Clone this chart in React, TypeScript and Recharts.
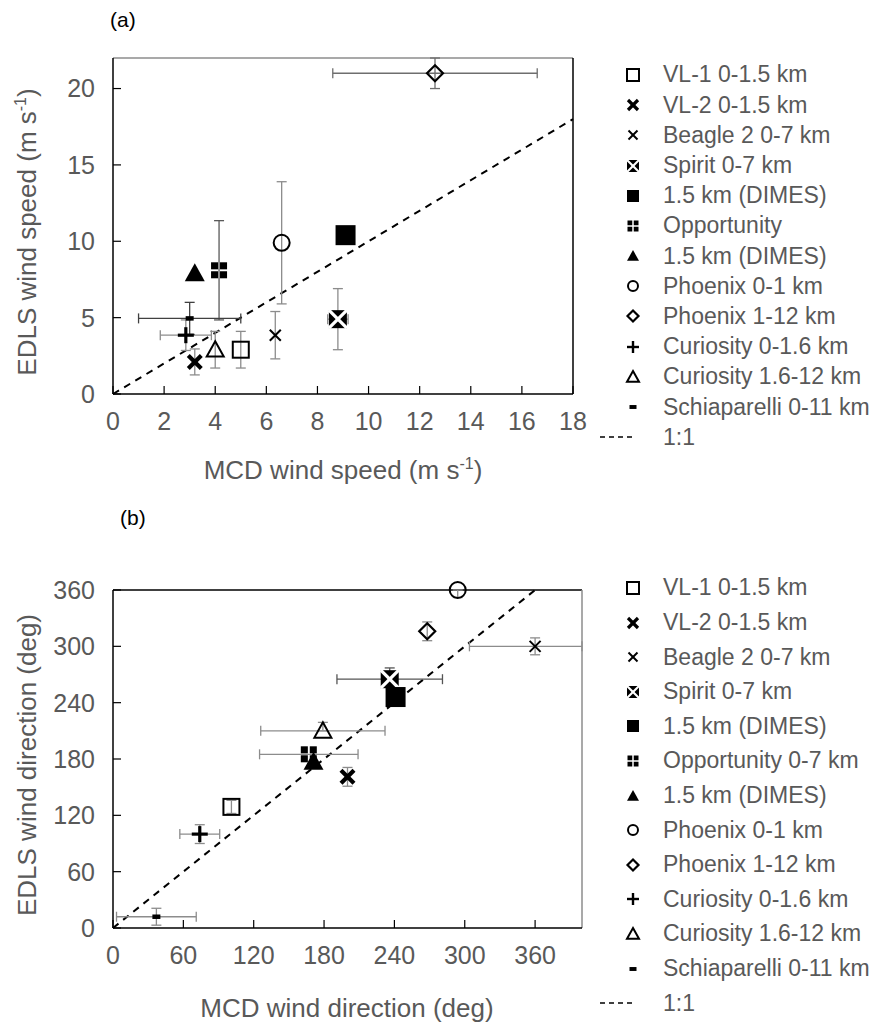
import React from 'react';
import { ScatterChart, Scatter, XAxis, YAxis, ErrorBar, ReferenceLine } from 'recharts';

type Pt = { x: number; y: number; ex?: number | number[]; ey?: number | number[] };

// ---------- legend labels ----------
const legendA = ['VL-1 0-1.5 km', 'VL-2 0-1.5 km', 'Beagle 2 0-7 km', 'Spirit 0-7 km', '1.5 km (DIMES)', 'Opportunity', '1.5 km (DIMES)', 'Phoenix 0-1 km', 'Phoenix 1-12 km', 'Curiosity 0-1.6 km', 'Curiosity 1.6-12 km', 'Schiaparelli 0-11 km'];
const legendB = ['VL-1 0-1.5 km', 'VL-2 0-1.5 km', 'Beagle 2 0-7 km', 'Spirit 0-7 km', '1.5 km (DIMES)', 'Opportunity 0-7 km', '1.5 km (DIMES)', 'Phoenix 0-1 km', 'Phoenix 1-12 km', 'Curiosity 0-1.6 km', 'Curiosity 1.6-12 km', 'Schiaparelli 0-11 km'];
const markerKinds = ['openSquare', 'boldX', 'thinX', 'spirit', 'filledSquare', 'quad', 'filledTri', 'openCircle', 'openDiamond', 'plus', 'openTri', 'dash'];

// ---------- panel (a): wind speed ----------
const vl1A: Pt[] = [{ x: 5.0, y: 2.9, ey: 1.2 }];
const vl2A: Pt[] = [{ x: 3.2, y: 2.1, ey: 0.85 }];
const beagleA: Pt[] = [{ x: 6.35, y: 3.85, ey: 1.55 }];
const spiritA: Pt[] = [{ x: 8.8, y: 4.9, ex: 0.4, ey: 2 }];
const dimesSqA: Pt[] = [{ x: 9.1, y: 10.4 }];
const oppA: Pt[] = [{ x: 4.15, y: 8.1, ey: 3.25 }];
const dimesTriA: Pt[] = [{ x: 3.2, y: 7.9 }];
const phx01A: Pt[] = [{ x: 6.6, y: 9.9, ey: 4 }];
const phx112A: Pt[] = [{ x: 12.6, y: 21, ex: 4, ey: 1 }];
const cur016A: Pt[] = [{ x: 2.85, y: 3.85, ex: 1, ey: 1 }];
const cur1612A: Pt[] = [{ x: 4.0, y: 2.9, ey: 1.2 }];
const schiaA: Pt[] = [{ x: 3.0, y: 4.95, ex: 2, ey: 1.05 }];
const seriesA = [vl1A, vl2A, beagleA, spiritA, dimesSqA, oppA, dimesTriA, phx01A, phx112A, cur016A, cur1612A, schiaA];
const xTicksA = [0, 2, 4, 6, 8, 10, 12, 14, 16, 18];
const yTicksA = [0, 5, 10, 15, 20];
const oneToOneA = [{ x: 0, y: 0 }, { x: 18, y: 18 }];
const errColorsA = ['#8c8c8c', '#8c8c8c', '#8c8c8c', '#8c8c8c', '#8c8c8c', '#595959', '#8c8c8c', '#8c8c8c', '#6e6e6e', '#8c8c8c', '#8c8c8c', '#404040'];

// ---------- panel (b): wind direction ----------
const vl1B: Pt[] = [{ x: 101, y: 129, ey: 7 }];
const vl2B: Pt[] = [{ x: 200, y: 161, ey: 10 }];
const beagleB: Pt[] = [{ x: 360, y: 300, ex: [56, 40], ey: 9 }];
const spiritB: Pt[] = [{ x: 236, y: 265, ex: 45, ey: [0, 12] }];
const dimesSqB: Pt[] = [{ x: 241, y: 246 }];
const oppB: Pt[] = [{ x: 167, y: 185, ex: 42 }];
const dimesTriB: Pt[] = [{ x: 171, y: 177 }];
const phx01B: Pt[] = [{ x: 294, y: 360, ey: [8, 0] }];
const phx112B: Pt[] = [{ x: 268, y: 316, ey: 10 }];
const cur016B: Pt[] = [{ x: 74, y: 100, ex: 17, ey: 10 }];
const cur1612B: Pt[] = [{ x: 179, y: 210, ex: 53, ey: [0, 9] }];
const schiaB: Pt[] = [{ x: 37, y: 12, ex: 34, ey: 9 }];
const seriesB = [vl1B, vl2B, beagleB, spiritB, dimesSqB, oppB, dimesTriB, phx01B, phx112B, cur016B, cur1612B, schiaB];
const xTicksB = [0, 60, 120, 180, 240, 300, 360];
const yTicksB = [0, 60, 120, 180, 240, 300, 360];
const oneToOneB = [{ x: 0, y: 0 }, { x: 360, y: 360 }];
const errColorsB = ['#8c8c8c', '#8c8c8c', '#8c8c8c', '#555555', '#8c8c8c', '#8c8c8c', '#8c8c8c', '#8c8c8c', '#8c8c8c', '#8c8c8c', '#8c8c8c', '#8c8c8c'];

const chartSizes = [16, 13, 11, 18, 20, 16, 20, 18, 16, 16, 17, 8];
const legendSizes = [12, 10, 9, 12, 12, 11, 12, 12, 11, 12, 12, 7];

const FONT = '"Liberation Sans", Arial, sans-serif';
const GREY = '#595959';

function Marker({ kind, cx, cy, s }: { kind: string; cx: number; cy: number; s: number }) {
  const h = s / 2;
  switch (kind) {
    case 'openSquare':
      return <rect x={cx - h} y={cy - h} width={s} height={s} fill="none" stroke="#000" strokeWidth={2} />;
    case 'boldX':
      return (
        <g stroke="#000" strokeWidth={s * 0.32}>
          <line x1={cx - h} y1={cy - h} x2={cx + h} y2={cy + h} />
          <line x1={cx - h} y1={cy + h} x2={cx + h} y2={cy - h} />
        </g>
      );
    case 'thinX':
      return (
        <g stroke="#000" strokeWidth={2}>
          <line x1={cx - h} y1={cy - h} x2={cx + h} y2={cy + h} />
          <line x1={cx - h} y1={cy + h} x2={cx + h} y2={cy - h} />
        </g>
      );
    case 'spirit':
      return (
        <g>
          <rect x={cx - h} y={cy - h} width={s} height={s} fill="#000" />
          <g stroke="#fff" strokeWidth={s * 0.18}>
            <line x1={cx - h} y1={cy - h} x2={cx + h} y2={cy + h} />
            <line x1={cx - h} y1={cy + h} x2={cx + h} y2={cy - h} />
          </g>
        </g>
      );
    case 'filledSquare':
      return <rect x={cx - h} y={cy - h} width={s} height={s} fill="#000" />;
    case 'quad': {
      const g = Math.max(1.5, s * 0.12);
      const q = (s - g) / 2;
      return (
        <g fill="#000">
          <rect x={cx - h} y={cy - h} width={q} height={q} />
          <rect x={cx + g / 2} y={cy - h} width={q} height={q} />
          <rect x={cx - h} y={cy + g / 2} width={q} height={q} />
          <rect x={cx + g / 2} y={cy + g / 2} width={q} height={q} />
        </g>
      );
    }
    case 'filledTri':
      return <polygon points={`${cx},${cy - h} ${cx + h},${cy + h * 0.8} ${cx - h},${cy + h * 0.8}`} fill="#000" />;
    case 'openCircle':
      return <circle cx={cx} cy={cy} r={h - 1} fill="none" stroke="#000" strokeWidth={2} />;
    case 'openDiamond':
      return <polygon points={`${cx},${cy - h} ${cx + h},${cy} ${cx},${cy + h} ${cx - h},${cy}`} fill="none" stroke="#000" strokeWidth={2.2} />;
    case 'plus':
      return (
        <g stroke="#000" strokeWidth={s * 0.2}>
          <line x1={cx - h} y1={cy} x2={cx + h} y2={cy} />
          <line x1={cx} y1={cy - h} x2={cx} y2={cy + h} />
        </g>
      );
    case 'openTri':
      return <polygon points={`${cx},${cy - h} ${cx + h},${cy + h * 0.8} ${cx - h},${cy + h * 0.8}`} fill="none" stroke="#000" strokeWidth={2} />;
    case 'dash':
      return <rect x={cx - h} y={cy - s * 0.28} width={s} height={s * 0.56} fill="#000" />;
    default:
      return null;
  }
}

function Legend({ labels, top, step }: { labels: string[]; top: number; step: number }) {
  return (
    <div style={{ position: 'absolute', left: 618, top: top - step / 2, fontFamily: FONT, fontSize: 23, color: GREY }}>
      {labels.map((lab, i) => (
        <div key={i} style={{ height: step, display: 'flex', alignItems: 'center' }}>
          <svg width={30} height={24} style={{ marginRight: 15 }}>
            <Marker kind={markerKinds[i]} cx={15} cy={12} s={legendSizes[i]} />
          </svg>
          <span style={{ whiteSpace: 'nowrap' }}>{lab}</span>
        </div>
      ))}
      <div style={{ height: step, display: 'flex', alignItems: 'center', marginLeft: -18 }}>
        <svg width={40} height={24} style={{ marginRight: 23 }}>
          <line x1={0} y1={12} x2={36} y2={12} stroke="#000" strokeWidth={1.5} strokeDasharray="5 4" />
        </svg>
        <span>1:1</span>
      </div>
    </div>
  );
}

function Panel({ series, errColors, xTicks, yTicks, xMax, yMax, oneToOne, height, margin, topColor, rightColor }: any) {
  return (
    <ScatterChart width={883} height={height} margin={margin}>
      <XAxis type="number" dataKey="x" domain={[0, xMax]} ticks={xTicks} interval={0}
        axisLine={{ stroke: '#000', strokeWidth: 1.5 }} tickLine={{ stroke: '#000', strokeWidth: 1.2 }}
        tickSize={-8} tickMargin={26} height={30}
        tick={{ fill: GREY, fontSize: 25, fontFamily: FONT }} />
      <YAxis type="number" dataKey="y" domain={[0, yMax]} ticks={yTicks} interval={0}
        axisLine={{ stroke: '#000', strokeWidth: 1.5 }} tickLine={{ stroke: '#000', strokeWidth: 1.2 }}
        tickSize={-8} tickMargin={26} width={60}
        tick={{ fill: GREY, fontSize: 25, fontFamily: FONT }} />
      <ReferenceLine y={yMax} stroke={topColor} strokeWidth={1.5} />
      <ReferenceLine x={xMax} stroke={rightColor} strokeWidth={1.5} />
      <ReferenceLine segment={oneToOne} stroke="#000" strokeWidth={2} strokeDasharray="7 6" />
      {series.map((d: Pt[], i: number) => (
        <Scatter key={i} data={d} isAnimationActive={false}
          shape={(p: any) => <Marker kind={markerKinds[i]} cx={p.cx} cy={p.cy} s={chartSizes[i]} />}>
          {d[0].ex !== undefined && <ErrorBar dataKey="ex" direction="x" width={5} stroke={errColors[i]} strokeWidth={1.3} />}
          {d[0].ey !== undefined && <ErrorBar dataKey="ey" direction="y" width={5} stroke={errColors[i]} strokeWidth={1.3} />}
        </Scatter>
      ))}
    </ScatterChart>
  );
}

const titleStyle: React.CSSProperties = { position: 'absolute', fontFamily: FONT, fontSize: 26, color: GREY, whiteSpace: 'nowrap' };

export default function App() {
  return (
    <div style={{ position: 'absolute', left: 0, top: 0, width: 883, height: 1025, background: '#fff' }}>
      {/* panel (a) */}
      <div style={{ position: 'absolute', left: 0, top: 0 }}>
        <Panel series={seriesA} errColors={errColorsA} xTicks={xTicksA} yTicks={yTicksA} xMax={18} yMax={22} oneToOne={oneToOneA}
          height={480} margin={{ top: 58, left: 53, right: 310, bottom: 56 }} topColor="#8c8c8c" rightColor="#000" />
      </div>
      <div style={{ position: 'absolute', left: 110, top: 8, fontFamily: FONT, fontSize: 21, color: '#000' }}>(a)</div>
      <div style={{ ...titleStyle, left: 343, top: 470, transform: 'translate(-50%, -50%)' }}>
        MCD wind speed (m s<sup style={{ fontSize: 16 }}>-1</sup>)
      </div>
      <div style={{ ...titleStyle, left: 27, top: 232, transform: 'translate(-50%, -50%) rotate(-90deg)' }}>
        EDLS wind speed (m s<sup style={{ fontSize: 16 }}>-1</sup>)
      </div>
      <Legend labels={legendA} top={75} step={30.2} />

      {/* panel (b) */}
      <div style={{ position: 'absolute', left: 0, top: 500 }}>
        <Panel series={seriesB} errColors={errColorsB} xTicks={xTicksB} yTicks={yTicksB} xMax={400} yMax={360} oneToOne={oneToOneB}
          height={525} margin={{ top: 90, left: 53, right: 301, bottom: 67 }} topColor="#000" rightColor="#8c8c8c" />
      </div>
      <div style={{ position: 'absolute', left: 120, top: 506, fontFamily: FONT, fontSize: 21, color: '#000' }}>(b)</div>
      <div style={{ ...titleStyle, left: 347, top: 1008, transform: 'translate(-50%, -50%)' }}>
        MCD wind direction (deg)
      </div>
      <div style={{ ...titleStyle, left: 27, top: 765, transform: 'translate(-50%, -50%) rotate(-90deg)' }}>
        EDLS wind direction (deg)
      </div>
      <Legend labels={legendB} top={588} step={34.6} />
    </div>
  );
}
